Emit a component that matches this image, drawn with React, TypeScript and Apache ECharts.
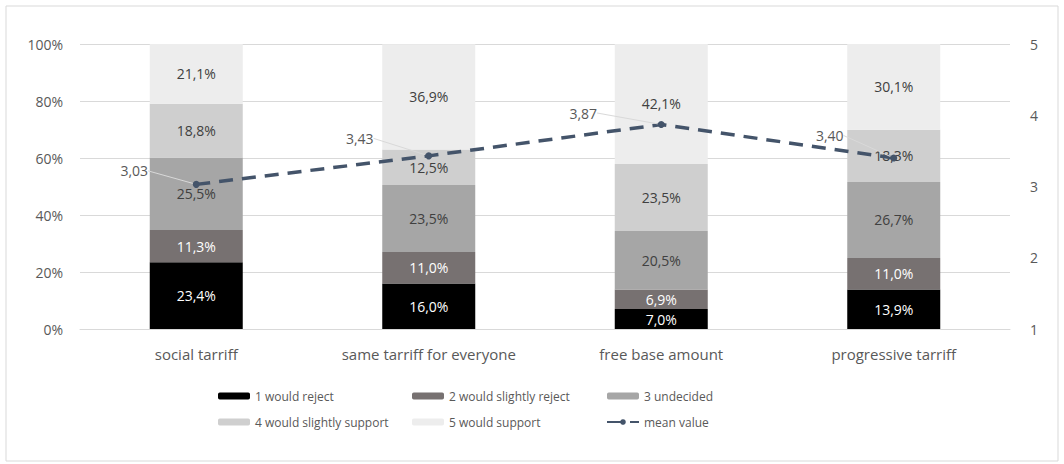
import React, { useEffect, useRef } from "react";
import * as echarts from "echarts";

const categories = ["social tarriff", "same tarriff for everyone", "free base amount", "progressive tarriff"];
const seriesNames = ["1 would reject", "2 would slightly reject", "3 undecided", "4 would slightly support", "5 would support"];
const reject = [23.4, 16.0, 7.0, 13.9];
const slightlyReject = [11.3, 11.0, 6.9, 11.0];
const undecided = [25.5, 23.5, 20.5, 26.7];
const slightlySupport = [18.8, 12.5, 23.5, 18.3];
const support = [21.1, 36.9, 42.1, 30.1];
const meanValues = [3.03, 3.43, 3.87, 3.4];
const leftTicks = [0, 20, 40, 60, 80, 100];
const rightTicks = [1, 2, 3, 4, 5];

const colors = ["#000000", "#777171", "#a6a6a6", "#cfcfcf", "#ededed"];
const labelColors = ["#ffffff", "#ffffff", "#404040", "#404040", "#404040"];
const meanLabelOffsets = [[-62, -10], [-69, -14], [-78, -8], [-64, -19]];

const FONT = "Open Sans";

export default function App() {
  const ref = useRef<HTMLDivElement>(null);
  useEffect(() => {
    const chart = echarts.init(ref.current!, null, { renderer: "svg" });
    const barData = [reject, slightlyReject, undecided, slightlySupport, support];
    const barSeries = barData.map((d, i) => ({
      name: seriesNames[i],
      type: "bar",
      stack: "total",
      barWidth: "40%",
      itemStyle: { color: colors[i] },
      label: {
        show: true,
        position: "inside",
        color: labelColors[i],
        fontFamily: FONT,
        fontSize: 14,
        formatter: (p: any) => p.value.toFixed(1).replace(".", ",") + "%",
      },
      data: d,
    }));
    const legendCommon = {
      orient: "vertical",
      top: 385,
      itemWidth: 32,
      itemHeight: 7,
      itemGap: 14,
      textStyle: { color: "#595959", fontSize: 12, fontFamily: FONT },
    };
    chart.setOption({
      animation: false,
      textStyle: { fontFamily: FONT },
      grid: { left: 80, right: 54, top: 44, height: 285 },
      graphic: [
        {
          type: "rect",
          shape: { x: 6, y: 6, width: 1052, height: 455 },
          style: { fill: "none", stroke: "#d9d9d9", lineWidth: 1 },
          silent: true,
        },
      ],
      legend: [
        { ...legendCommon, left: 213, data: [seriesNames[0], seriesNames[3]] },
        { ...legendCommon, left: 407, data: [seriesNames[1], seriesNames[4]] },
        { ...legendCommon, left: 601, data: [seriesNames[2], "mean value"] },
      ],
      xAxis: {
        type: "category",
        data: categories,
        axisLine: { show: true, lineStyle: { color: "#d9d9d9" } },
        axisTick: { show: false },
        axisLabel: { color: "#595959", fontSize: 15, margin: 17, fontFamily: FONT },
      },
      yAxis: [
        {
          type: "value",
          min: leftTicks[0],
          max: leftTicks[leftTicks.length - 1],
          interval: 20,
          axisLabel: { color: "#595959", fontSize: 14, margin: 17, formatter: "{value}%", fontFamily: FONT },
          splitLine: { lineStyle: { color: "#d9d9d9" } },
          axisLine: { show: false },
          axisTick: { show: false },
        },
        {
          type: "value",
          min: rightTicks[0],
          max: rightTicks[rightTicks.length - 1],
          interval: 1,
          position: "right",
          axisLabel: { color: "#595959", fontSize: 14, margin: 20, fontFamily: FONT },
          splitLine: { show: false },
          axisLine: { show: false },
          axisTick: { show: false },
        },
      ],
      series: [
        ...barSeries,
        {
          name: "mean value",
          type: "line",
          yAxisIndex: 1,
          data: meanValues,
          z: 5,
          symbol: "circle",
          symbolSize: 7,
          itemStyle: { color: "#44546a" },
          lineStyle: { color: "#44546a", width: 3.5, type: [14, 9] },
          label: {
            show: true,
            color: "#595959",
            fontSize: 14,
            fontFamily: FONT,
            position: "top",
            formatter: (p: any) => p.value.toFixed(2).replace(".", ","),
          },
          labelLayout: (p: any) => ({
            dx: meanLabelOffsets[p.dataIndex][0],
            dy: meanLabelOffsets[p.dataIndex][1] + 12,
          }),
          labelLine: { show: true, lineStyle: { color: "#d9d9d9", width: 1 } },
        },
      ],
    });
    return () => chart.dispose();
  }, []);
  return (
    <div
      ref={ref}
      style={{ position: "fixed", left: 0, top: 0, width: 1064, height: 464, background: "#ffffff" }}
    />
  );
}
